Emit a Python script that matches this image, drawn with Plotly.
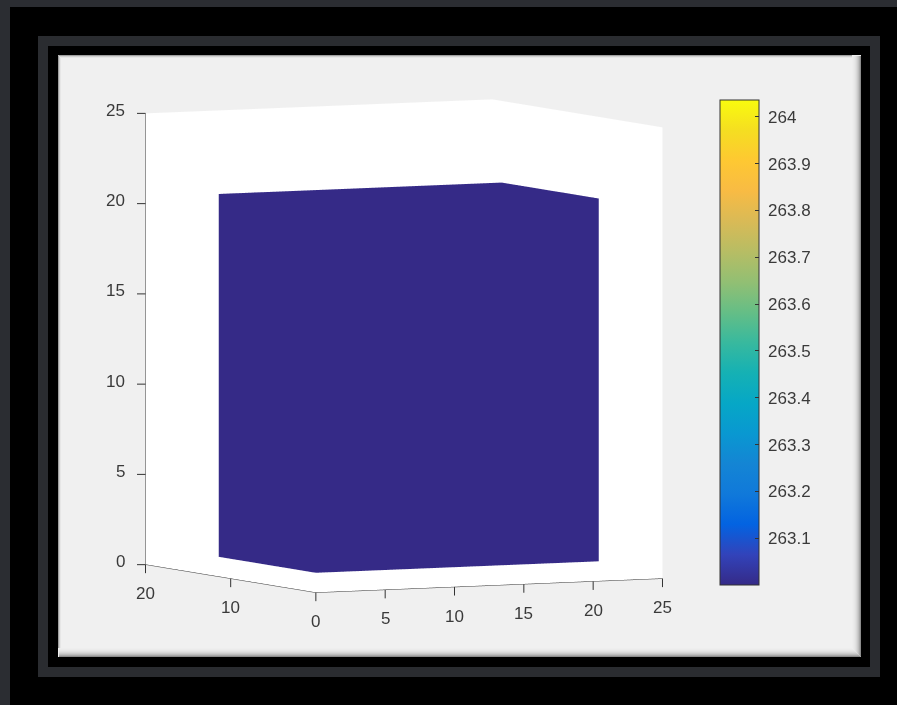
import plotly.graph_objects as go
import math

# ---- data ----
cube_x = [0, 20.4]        # cube extent along x
cube_y = [0, 11.4]        # cube extent along y
cube_z = [1.1, 21.2]      # cube extent along z
cube_value = 263.0        # value carried by the solid
clim = [263.0, 264.036]   # colour limits
cbar_ticks = [263.1, 263.2, 263.3, 263.4, 263.5, 263.6, 263.7, 263.8, 263.9, 264.0]
cbar_text = ['263.1', '263.2', '263.3', '263.4', '263.5', '263.6', '263.7', '263.8', '263.9', '264']
x_range = [0, 25]
y_range = [0, 20]
z_range = [0, 25]
x_ticks = [0, 5, 10, 15, 20, 25]
x_ticktext = ['0', '5', '10', '15', '20', '25']
y_ticks = [0, 10, 20]
y_ticktext = ['', '10', '20']
z_ticks = [0, 5, 10, 15, 20, 25]
z_ticktext = ['0', '5', '10', '15', '20', '25']

parula = [
    (0.2081, 0.1663, 0.5292), (0.1959, 0.2645, 0.7279), (0.0117, 0.3875, 0.8820),
    (0.0629, 0.4737, 0.8554), (0.0793, 0.5200, 0.8312), (0.0343, 0.5966, 0.8199),
    (0.0228, 0.6535, 0.7768), (0.0843, 0.6928, 0.7062), (0.2178, 0.7250, 0.6193),
    (0.3953, 0.7459, 0.5244), (0.5709, 0.7485, 0.4494), (0.7184, 0.7411, 0.3905),
    (0.8507, 0.7299, 0.3360), (0.9739, 0.7314, 0.2666), (0.9955, 0.7861, 0.1967),
    (0.9626, 0.8705, 0.1309), (0.9763, 0.9831, 0.0538)]
n = len(parula)
colorscale = [[i / (n - 1), 'rgb(%d,%d,%d)' % tuple(round(c * 255) for c in col)]
              for i, col in enumerate(parula)]

# cube vertices / triangles
vx, vy, vz = [], [], []
for k in range(2):
    for j in range(2):
        for i in range(2):
            vx.append(cube_x[i]); vy.append(cube_y[j]); vz.append(cube_z[k])
faces = [(0, 1, 3), (0, 3, 2), (4, 5, 7), (4, 7, 6), (0, 1, 5), (0, 5, 4),
         (2, 3, 7), (2, 7, 6), (0, 2, 6), (0, 6, 4), (1, 3, 7), (1, 7, 5)]

NB = '\u00a0'
TXT = '#3a3a3a'
LINE = '#333333'
FONT = 'Liberation Sans, Arial'

fig = go.Figure()
fig.add_trace(go.Mesh3d(
    x=vx, y=vy, z=vz,
    i=[f[0] for f in faces], j=[f[1] for f in faces], k=[f[2] for f in faces],
    intensity=[cube_value] * len(vx), colorscale=colorscale,
    cmin=clim[0], cmax=clim[1], flatshading=True,
    lighting=dict(ambient=1.0, diffuse=0.0, specular=0.0, roughness=1.0, fresnel=0.0),
    hoverinfo='skip',
    colorbar=dict(
        x=720 / 897, xanchor='left', y=(705 - 342.5) / 705, yanchor='middle',
        len=485 / 705, lenmode='fraction', thickness=39, thicknessmode='pixels',
        xpad=0, ypad=0, outlinecolor=LINE, outlinewidth=1,
        tickvals=cbar_ticks, ticktext=[NB + t for t in cbar_text], ticks='inside', ticklen=4,
        tickcolor=LINE, tickfont=dict(family=FONT, size=17, color=TXT),
    ),
))

az = math.radians(243.6)
el = math.radians(4.68)
dist = 2.0
eye = dict(x=dist * math.cos(el) * math.cos(az), y=dist * math.cos(el) * math.sin(az), z=dist * math.sin(el))

axis_common = dict(
    showgrid=False, zeroline=False, showline=True, linecolor=LINE, linewidth=1,
    ticks='', showticklabels=False,
    showbackground=True, backgroundcolor='white',
    showspikes=False, title=dict(text=''),
)

# tick labels and tick marks placed through the scene's own data coordinates
ann = []
tick_style = dict(showarrow=True, arrowhead=0, arrowwidth=1, arrowcolor=LINE,
                  standoff=0, startstandoff=0, text='')
for t, s in zip(x_ticks, x_ticktext):
    ann.append(dict(x=t, y=y_range[0], z=z_range[0], text=s, yshift=-29))
    ann.append(dict(x=t, y=y_range[0], z=z_range[0], ax=0, ay=10, **tick_style))
for t, s in zip(y_ticks, y_ticktext):
    if s:
        ann.append(dict(x=x_range[0], y=t, z=z_range[0], text=s, yshift=-29))
        ann.append(dict(x=x_range[0], y=t, z=z_range[0], ax=0, ay=10, **tick_style))
for t, s in zip(z_ticks, z_ticktext):
    ann.append(dict(x=x_range[0], y=y_range[1], z=t, text=s, xanchor='right', xshift=-19, yshift=3))
    ann.append(dict(x=x_range[0], y=y_range[1], z=t, ax=-10, ay=0, **tick_style))
for a in ann:
    a.setdefault('showarrow', False)
    a['font'] = dict(family=FONT, size=17, color=TXT)
    a.setdefault('xanchor', 'center')
    a['yanchor'] = 'middle'

shapes = [
    dict(type='rect', xref='paper', yref='paper', x0=0, x1=10 / 897, y0=0, y1=1,
         fillcolor='#2b2d32', line=dict(width=0), layer='below'),
    dict(type='rect', xref='paper', yref='paper', x0=0, x1=1, y0=1 - 7 / 705, y1=1,
         fillcolor='#2b2d32', line=dict(width=0), layer='below'),
    dict(type='rect', xref='paper', yref='paper', x0=38 / 897, x1=880 / 897, y0=1 - 677 / 705, y1=1 - 36 / 705,
         fillcolor='#2a2c30', line=dict(width=0), layer='below'),
    dict(type='rect', xref='paper', yref='paper', x0=48 / 897, x1=870 / 897, y0=1 - 667 / 705, y1=1 - 46 / 705,
         fillcolor='black', line=dict(width=0), layer='below'),
    dict(type='rect', xref='paper', yref='paper', x0=58 / 897, x1=861 / 897, y0=1 - 657 / 705, y1=1 - 55 / 705,
         fillcolor='#f0f0f0', line=dict(width=0), layer='below'),
]
# soft shading along the panel edges
grad = ['#8c8c8c', '#a8a8a8', '#bdbdbd', '#cccccc', '#d8d8d8', '#e1e1e1', '#e7e7e7', '#ebebeb', '#eeeeee']
for d, c in enumerate(grad):
    dd = d + 0.5
    shapes.append(dict(type='line', xref='paper', yref='paper',
                       x0=(58 + 1) / 897, x1=(861 - dd) / 897, y0=1 - (657 - dd) / 705, y1=1 - (657 - dd) / 705,
                       line=dict(width=1, color=c), layer='below'))
    shapes.append(dict(type='line', xref='paper', yref='paper',
                       x0=(861 - dd) / 897, x1=(861 - dd) / 897, y0=1 - (657 - dd) / 705, y1=1 - (55 + 1) / 705,
                       line=dict(width=1, color=c), layer='below'))
for d, c in enumerate(['#a0a0a0', '#d0d0d0', '#e6e6e6']):
    dd = d + 0.5
    shapes.append(dict(type='line', xref='paper', yref='paper',
                       x0=(58 + dd) / 897, x1=(861 - 9) / 897, y0=1 - (55 + dd) / 705, y1=1 - (55 + dd) / 705,
                       line=dict(width=1, color=c), layer='below'))
    shapes.append(dict(type='line', xref='paper', yref='paper',
                       x0=(58 + dd) / 897, x1=(58 + dd) / 897, y0=1 - (657 - 9) / 705, y1=1 - (55 + dd) / 705,
                       line=dict(width=1, color=c), layer='below'))

s = 1.29
cx, cy, half = 404, 346, 300
fig.update_layout(
    width=897, height=705, margin=dict(l=0, r=0, t=0, b=0),
    paper_bgcolor='black', showlegend=False, shapes=shapes,
    scene=dict(
        domain=dict(x=[(cx - half) / 897, (cx + half) / 897], y=[(705 - cy - half) / 705, (705 - cy + half) / 705]),
        xaxis=dict(range=x_range, tickvals=x_ticks, **axis_common),
        yaxis=dict(range=y_range, tickvals=y_ticks, **axis_common),
        zaxis=dict(range=z_range, tickvals=z_ticks, **axis_common),
        aspectmode='manual', aspectratio=dict(x=1 * s, y=0.99 * s, z=1.17 * s),
        camera=dict(eye=eye, up=dict(x=0, y=0, z=1), center=dict(x=0, y=0, z=0),
                    projection=dict(type='orthographic')),
        bgcolor='rgba(0,0,0,0)',
        annotations=ann,
    ),
)
fig.write_html('out.html')
